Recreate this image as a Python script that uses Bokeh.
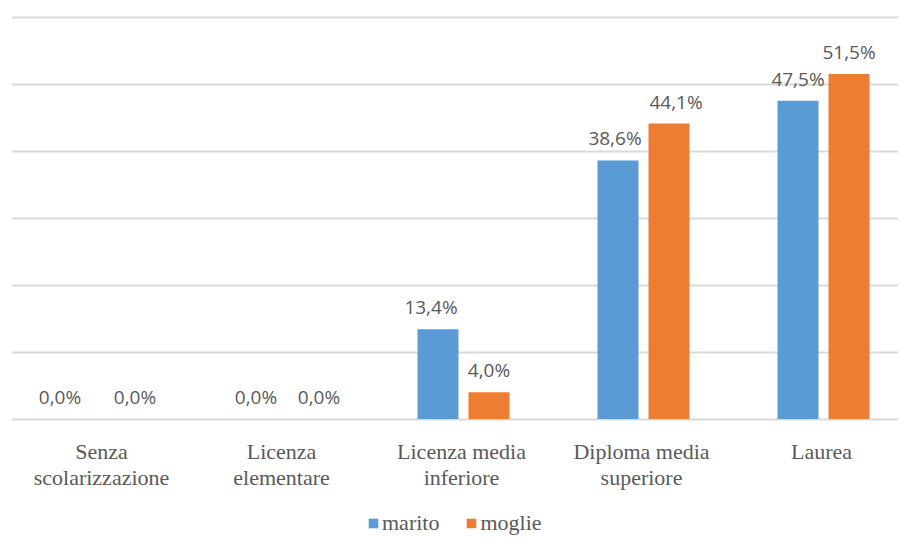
from bokeh.plotting import figure
from bokeh.models import ColumnDataSource, Range1d, Grid, FixedTicker, Legend, LegendItem
from bokeh.core.properties import value
from bokeh.embed import file_html
from bokeh.resources import INLINE

# ---- data ----
categories = ["Senza\nscolarizzazione", "Licenza\nelementare", "Licenza media\ninferiore",
              "Diploma media\nsuperiore", "Laurea"]
marito = [0.0, 0.0, 13.4, 38.6, 47.5]
moglie = [0.0, 0.0, 4.0, 44.1, 51.5]
series_names = ["marito", "moglie"]
grid_ticks = [0, 10, 20, 30, 40, 50, 60]

# ---- styling / layout ----
colors = ["#5B9BD5", "#ED7D31"]
bar_offset = 0.1417
bar_width = 0.2278
marito_label_dx = [-18, -2, -7, -3, 0]
moglie_label_dx = [6, 10, 0, 7, 0]
SERIF = "Liberation Serif"

W, H = 898, 536
px_per_unit = 6.7
base_y = 418.5
left = 11
x_start = (left - 103) / 180
x_end = (W - 103) / 180
y_end = base_y / px_per_unit
y_start = -(H - base_y) / px_per_unit

idx = list(range(len(categories)))

p = figure(width=W, height=H, output_backend="svg", toolbar_location=None,
           x_axis_type=None, y_axis_type=None,
           x_range=Range1d(x_start, x_end), y_range=Range1d(y_start, y_end),
           min_border_left=left, min_border_right=0, min_border_top=0, min_border_bottom=0)
p.outline_line_color = None
p.background_fill_color = "white"
p.border_fill_color = "white"

grid = Grid(dimension=1, ticker=FixedTicker(ticks=grid_ticks),
            grid_line_color="#D9D9D9", grid_line_width=2)
p.add_layout(grid)

# category labels
for line_no, off in ((0, 32), (1, 58)):
    xs, txt = [], []
    for i, c in zip(idx, categories):
        parts = c.split("\n")
        if line_no < len(parts):
            xs.append(i)
            txt.append(parts[line_no])
    src = ColumnDataSource(dict(x=xs, y=[0] * len(xs), t=txt))
    p.text(x="x", y="y", text="t", source=src, x_offset=-2, y_offset=off,
           text_align="center", text_baseline="middle",
           text_font=value(SERIF), text_font_size="22px",
           text_color="#595959")

renderers = []
for vals, col, sign, dxs in ((marito, colors[0], -1, marito_label_dx),
                             (moglie, colors[1], 1, moglie_label_dx)):
    xs = [i + sign * bar_offset for i in idx]
    src = ColumnDataSource(dict(x=xs, top=vals,
                                lbl=[f"{v:.1f}".replace(".", ",") + "%" for v in vals],
                                dx=dxs))
    r = p.vbar(x="x", top="top", bottom=0, width=bar_width, source=src,
               fill_color=col, line_color=None)
    renderers.append(r)
    p.text(x="x", y="top", text="lbl", source=src, x_offset="dx", y_offset=-22,
           text_align="center", text_baseline="middle",
           text_font=value("Open Sans"), text_font_size="19px", text_color="#595959")

legend = Legend(items=[LegendItem(label=series_names[0], renderers=[renderers[0]]),
                       LegendItem(label=series_names[1], renderers=[renderers[1]])],
                orientation="horizontal", location=(356, 0),
                label_text_font=SERIF, label_text_font_size="22px",
                label_text_color="#595959", glyph_width=12, glyph_height=12,
                label_standoff=3, spacing=26, padding=0, margin=0,
                background_fill_alpha=0, border_line_alpha=0)
p.add_layout(legend)

open("out.html", "w").write(file_html(p, INLINE))
